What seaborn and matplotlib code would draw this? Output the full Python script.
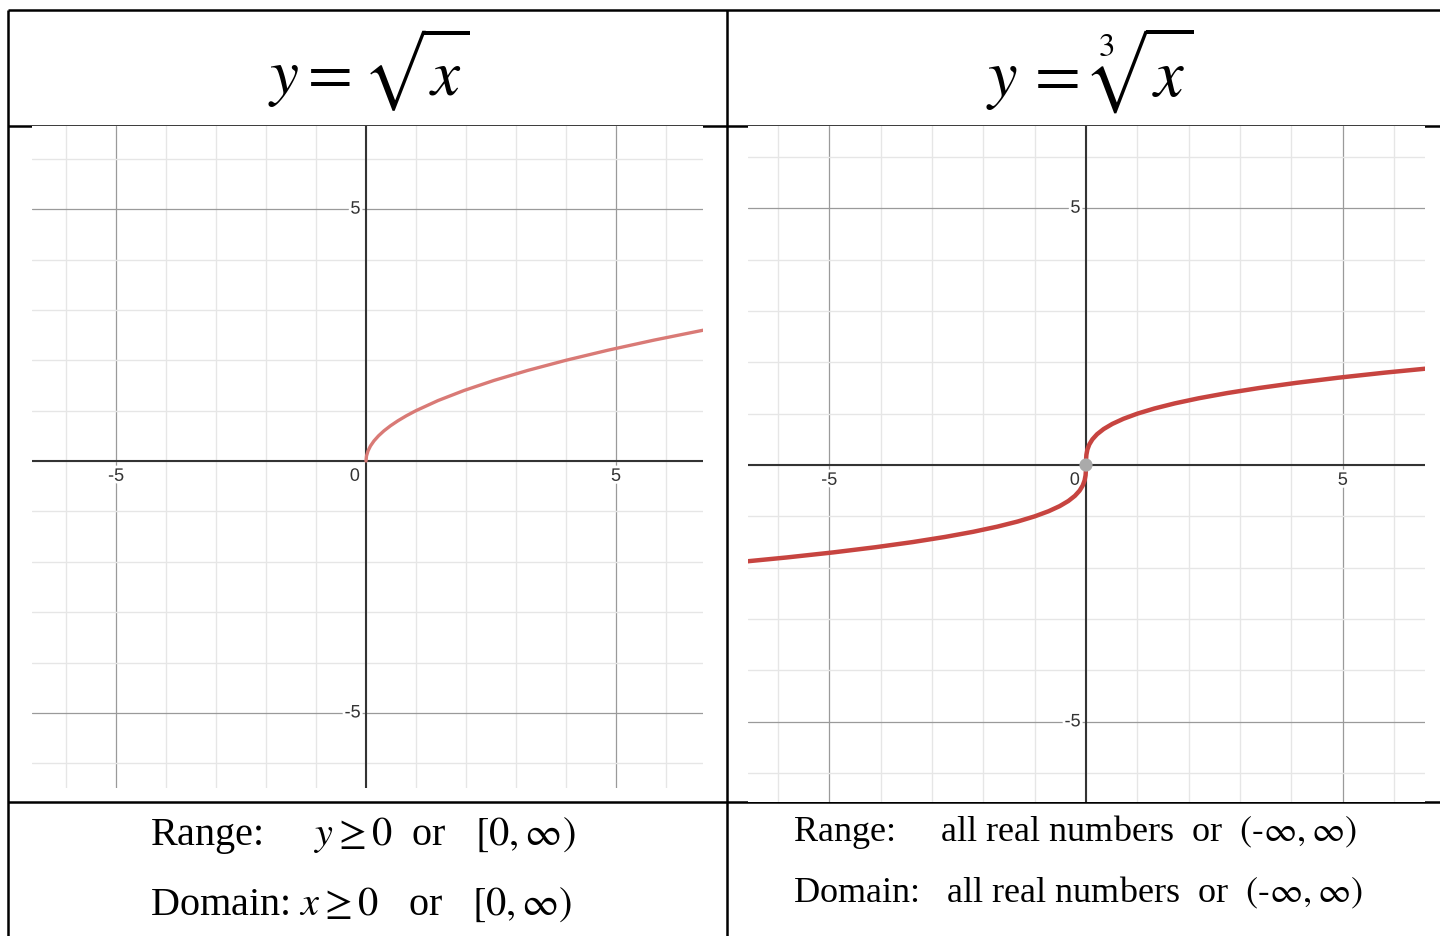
import matplotlib
matplotlib.use("Agg")
import matplotlib.pyplot as plt
import matplotlib.patheffects as pe
import pandas as pd
import seaborn as sns

# values
sqrt_x = [0, 0.01, 0.04, 0.09, 0.16, 0.25, 0.36, 0.49, 0.64, 0.81, 1.0,
          1.44, 1.96, 2.56, 3.24, 4.0, 4.84, 5.76, 6.76]
sqrt_y = [0, 0.1, 0.2, 0.3, 0.4, 0.5, 0.6, 0.7, 0.8, 0.9, 1.0,
          1.2, 1.4, 1.6, 1.8, 2.0, 2.2, 2.4, 2.6]

cbrt_x = [-6.859, -5.832, -4.913, -4.096, -3.375, -2.744, -2.197, -1.728, -1.331, -1.0,
          -0.729, -0.512, -0.343, -0.216, -0.125, -0.064, -0.027, -0.008, -0.001, 0,
          0.001, 0.008, 0.027, 0.064, 0.125, 0.216, 0.343, 0.512, 0.729, 1.0,
          1.331, 1.728, 2.197, 2.744, 3.375, 4.096, 4.913, 5.832, 6.859]
cbrt_y = [-1.9, -1.8, -1.7, -1.6, -1.5, -1.4, -1.3, -1.2, -1.1, -1.0,
          -0.9, -0.8, -0.7, -0.6, -0.5, -0.4, -0.3, -0.2, -0.1, 0,
          0.1, 0.2, 0.3, 0.4, 0.5, 0.6, 0.7, 0.8, 0.9, 1.0,
          1.1, 1.2, 1.3, 1.4, 1.5, 1.6, 1.7, 1.8, 1.9]

point_x = [0]
point_y = [0]

major_ticks = [-5, 5]
minor_ticks = [-6, -5, -4, -3, -2, -1, 0, 1, 2, 3, 4, 5, 6]

titles = [r"$y=\sqrt{x}$", r"$y\,=\,\sqrt[3]{x}$"]
range_text = [r"Range:     $y\geq0$  or   $\left[0,\infty\right)$",
              r"Range:     all real numbers  or  $\left(\text{-}\infty,\infty\right)$"]
domain_text = [r"Domain: $x\geq0$   or   $\left[0,\infty\right)$",
               r"Domain:   all real numbers  or  $\left(\text{-}\infty,\infty\right)$"]

sns.set_style("white")
plt.rcParams["mathtext.fontset"] = "stix"
plt.rcParams["font.family"] = ["Liberation Serif", "DejaVu Serif"]
plt.rcParams["text.color"] = "black"

W, H = 1440, 936
fig = plt.figure(figsize=(W / 100, H / 100), dpi=100)

# table frame drawn in pixel units
tab = fig.add_axes([0, 0, 1, 1])
tab.set_xlim(0, W)
tab.set_ylim(H, 0)
tab.axis("off")
for yy in [10, 126, 802]:
    tab.plot([8, W], [yy, yy], color="black", lw=1.8, solid_capstyle="butt")
for xx in [8, 727]:
    tab.plot([xx, xx], [10, H], color="black", lw=1.8, solid_capstyle="butt")

tab.text(369, 70, titles[0], fontsize=47, ha="center", va="center", color="black")
tab.text(1090, 70, titles[1], fontsize=48, ha="center", va="center", color="black")
tab.text(150, 836, range_text[0], fontsize=29, ha="left", va="center", color="black")
tab.text(150, 905, domain_text[0], fontsize=29, ha="left", va="center", color="black")
tab.text(793, 832, range_text[1], fontsize=26, ha="left", va="center", color="black")
tab.text(793, 893, domain_text[1], fontsize=26, ha="left", va="center", color="black")


def setup_graph(ax, xlim, ylim):
    ax.set_xlim(*xlim)
    ax.set_ylim(*ylim)
    ax.set_xticks(major_ticks)
    ax.set_yticks(major_ticks)
    ax.set_xticks(minor_ticks, minor=True)
    ax.set_yticks(minor_ticks, minor=True)
    ax.grid(which="minor", color="#e6e6e6", lw=1.0)
    ax.grid(which="major", color="#9a9a9a", lw=0.9)
    ax.set_axisbelow(True)
    ax.tick_params(which="both", length=0, labelbottom=False, labelleft=False)
    for s in ax.spines.values():
        s.set_visible(False)
    ax.axhline(0, color="#333333", lw=1.5, zorder=1.5)
    ax.axvline(0, color="#333333", lw=1.5, zorder=1.5)
    halo = [pe.withStroke(linewidth=4, foreground="white")]
    lab = dict(fontsize=13, color="#333333", family="Liberation Sans",
               path_effects=halo, zorder=2, textcoords="offset points")
    for t in major_ticks:
        ax.annotate(str(t), (t, 0), xytext=(0, -11), ha="center", va="center", **lab)
        ax.annotate(str(t), (0, t), xytext=(-4, 0), ha="right", va="center", **lab)
    ax.annotate("0", (0, 0), xytext=(-8, -11), ha="center", va="center", **lab)


ax1 = fig.add_axes([32 / W, 1 - 788 / H, (703 - 32) / W, (788 - 126) / H])
setup_graph(ax1, (-6.68, 6.74), (-6.49, 6.65))
df1 = pd.DataFrame({"x": sqrt_x, "y": sqrt_y})
sns.lineplot(data=df1, x="x", y="y", ax=ax1, color="#d97a76", lw=2.4,
             estimator=None, sort=False, zorder=3)
ax1.set_xlabel("")
ax1.set_ylabel("")

ax2 = fig.add_axes([748 / W, 1 - 802 / H, (1425 - 748) / W, (802 - 126) / H])
setup_graph(ax2, (-6.58, 6.6), (-6.56, 6.6))
df2 = pd.DataFrame({"x": cbrt_x, "y": cbrt_y})
sns.lineplot(data=df2, x="x", y="y", ax=ax2, color="#c74440", lw=3.2,
             estimator=None, sort=False, zorder=3)
sns.scatterplot(x=point_x, y=point_y, ax=ax2, color="#aaaaaa", s=90,
                edgecolor="none", zorder=4)
ax2.set_xlabel("")
ax2.set_ylabel("")

fig.savefig("out.png", dpi=100)
